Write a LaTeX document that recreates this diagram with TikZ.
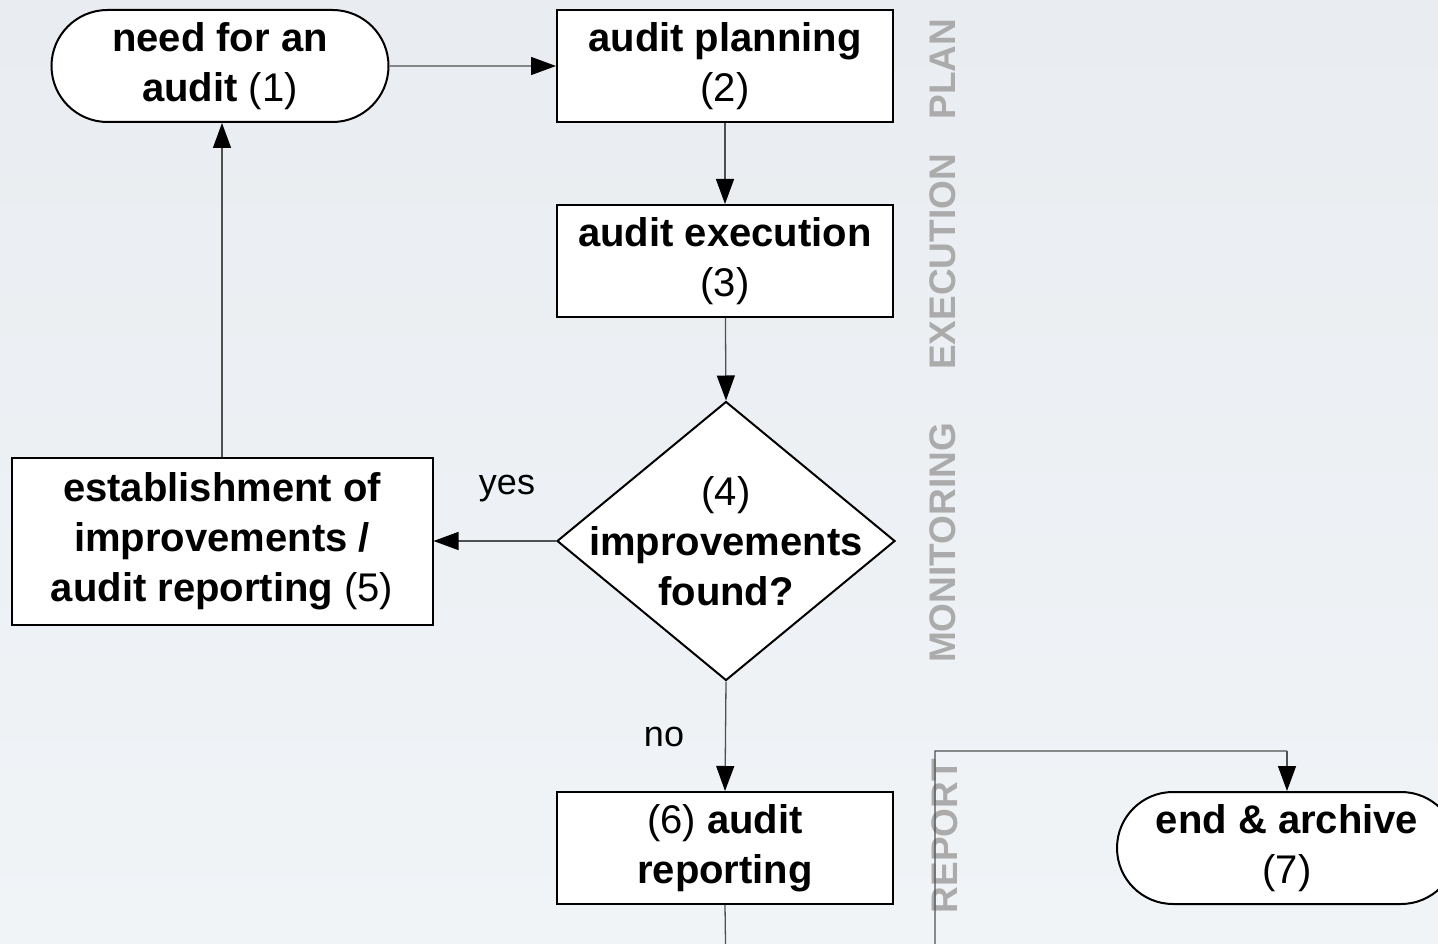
\documentclass[tikz,border=0pt]{standalone}
\usepackage{fontspec}
\setmainfont{Liberation Sans}
\usetikzlibrary{arrows.meta,shapes.geometric,shapes.misc}

\definecolor{bgtop}{HTML}{E9ECF0}
\definecolor{bgbottom}{HTML}{F1F4F7}
\definecolor{phase}{HTML}{ABABAB}
\definecolor{wire}{HTML}{505050}

\tikzset{
  x=1pt, y=-1pt,
  every node/.style={font=\fontsize{40}{50}\selectfont, align=center, inner sep=0pt},
  procbox/.style={draw=black, line width=2pt, fill=white, rectangle,
    minimum width=336pt, minimum height=112pt},
  terminal/.style={draw=black, line width=2pt, fill=white, rounded rectangle,
    minimum width=337pt, minimum height=112pt},
  decision/.style={draw=black, line width=2pt, fill=white, diamond,
    minimum width=338pt, minimum height=279pt},
  phaselabel/.style={rotate=90, text=phase, font=\fontsize{37}{40}\selectfont\bfseries},
  branch/.style={font=\fontsize{36}{40}\selectfont},
  flow/.style={draw=wire, line width=1.3pt,
    -{Triangle[length=25pt,width=18pt,color=black]}},
  plainflow/.style={draw=wire, line width=1.3pt},
}

\begin{document}
\begin{tikzpicture}
  % canvas
  \useasboundingbox (0,0) rectangle (1438,944);
  \shade[top color=bgtop, bottom color=bgbottom] (0,0) rectangle (1438,944);

  % phase captions
  \node[phaselabel] (pplan) at (943,69) {PLAN};
  \node[phaselabel] (pexec) at (943,262) {EXECUTION};
  \node[phaselabel] (pmon)  at (943,543) {MONITORING};
  \node[phaselabel] (prep)  at (945,836) {REPORT};

  % flow nodes
  \node[terminal] (need) at (220,66) {\textbf{need for an}\\\textbf{audit} (1)};
  \node[procbox]  (plan) at (725,66) {\textbf{audit planning}\\(2)};
  \node[procbox]  (exec) at (725,261) {\textbf{audit execution}\\(3)};
  \node[decision] (found) at (726,541) {};
  \node (foundtext) at (found.center) {(4)\\\textbf{improvements}\\\textbf{found?}};
  \node[procbox, minimum width=421pt, minimum height=167pt] (impr) at (222,541)
    {\textbf{establishment of}\\\textbf{improvements /}\\\textbf{audit reporting} (5)};
  \node[procbox]  (rep)  at (725,848) {(6) \textbf{audit}\\\textbf{reporting}};
  \node[terminal, minimum width=340pt] (done) at (1287,848) {\textbf{end \& archive}\\(7)};

  % branch captions
  \node[branch] (yes) at (507,489) {yes};
  \node[branch] (no)  at (664,737) {no};

  % connectors
  \draw[flow] (need) -- (plan);
  \draw[flow] (plan) -- (exec);
  \draw[flow] (exec) -- (found.north);
  \draw[flow] (found.west) -- (impr.east);
  \draw[flow] (found.south) -- (rep.north);
  \draw[flow] (impr.north) -- (impr.north |- need.south);

  \coordinate (down) at (726,980);
  \coordinate (turn) at (935,980);
  \coordinate (up)   at (935,751);
  \coordinate (over) at (1287,751);
  \draw[plainflow] (rep.south) -- (down) -- (turn) -- (up) -- (over);
  \draw[flow] (over) -- (done.north);
\end{tikzpicture}
\end{document}
